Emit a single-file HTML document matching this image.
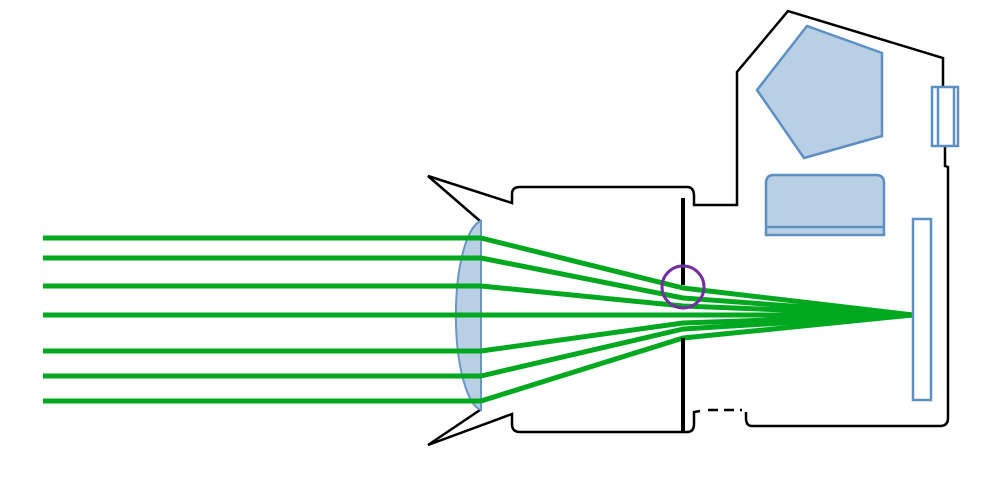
<!DOCTYPE html>
<html><head><style>html,body{margin:0;padding:0;background:#fff;}svg{display:block}</style></head>
<body>
<svg width="1000" height="500" viewBox="0 0 1000 500" xmlns="http://www.w3.org/2000/svg">
<g fill="none" stroke="#000" stroke-width="2.5" stroke-linejoin="miter">
<path d="M480,221 L428,176 L512,203 L512,194 Q512,187 520,187 L687,187 Q694,187 694,196 L694,205 L737,205 L737,72 L788,11 L943,58 L943,88"/>
<path d="M945,146 L945,166 L948,167 L948,418 Q948,426 940,426 L752,426 Q746,426 746,418 L746,412"/>
<path d="M480,410 L428,445 L512,414 L512,424 Q512,432 520,432 L687,432 Q694,432 694,424 L694,412 L700,411"/>
<path d="M708,410 L742,410" stroke-dasharray="10,6"/>
</g>
<path d="M481,221 A28,95 0 0 0 481,410 Z" fill="#b8cfe4" stroke="#6a97c6" stroke-width="2"/>
<g stroke="#00a820" stroke-width="5" fill="none" stroke-linejoin="round">
<polyline points="43,238 481,238 683,288 913,315"/>
<polyline points="43,258 481,258 683,298 913,315"/>
<polyline points="43,286 481,286 683,306 913,315"/>
<polyline points="43,315 913,315"/>
<polyline points="43,351 481,351 683,323 913,315"/>
<polyline points="43,376 481,376 683,329 913,315"/>
<polyline points="43,401 481,401 683,338 913,315"/>
</g>
<g stroke="#000" stroke-width="4">
<line x1="683" y1="198" x2="683" y2="285"/>
<line x1="683" y1="338" x2="683" y2="432"/>
</g>
<circle cx="683" cy="287" r="21" fill="none" stroke="#7030a0" stroke-width="3"/>
<g fill="#b8cfe4" stroke="#5e8fc2" stroke-width="2.5">
<polygon points="807,26 882,53 882,136 804,158 757,90"/>
<path d="M774,175 L876,175 Q884,175 884,183 L884,235 L766,235 L766,183 Q766,175 774,175 Z"/>
<line x1="766" y1="227" x2="884" y2="227"/>
</g>
<g fill="#fff" stroke="#5e8fc2" stroke-width="2.5">
<rect x="913" y="219" width="18" height="181"/>
<rect x="932" y="87" width="26" height="59"/>
<line x1="938" y1="87" x2="938" y2="146"/>
<line x1="954" y1="87" x2="954" y2="146"/>
</g>
</svg>
</body></html>
